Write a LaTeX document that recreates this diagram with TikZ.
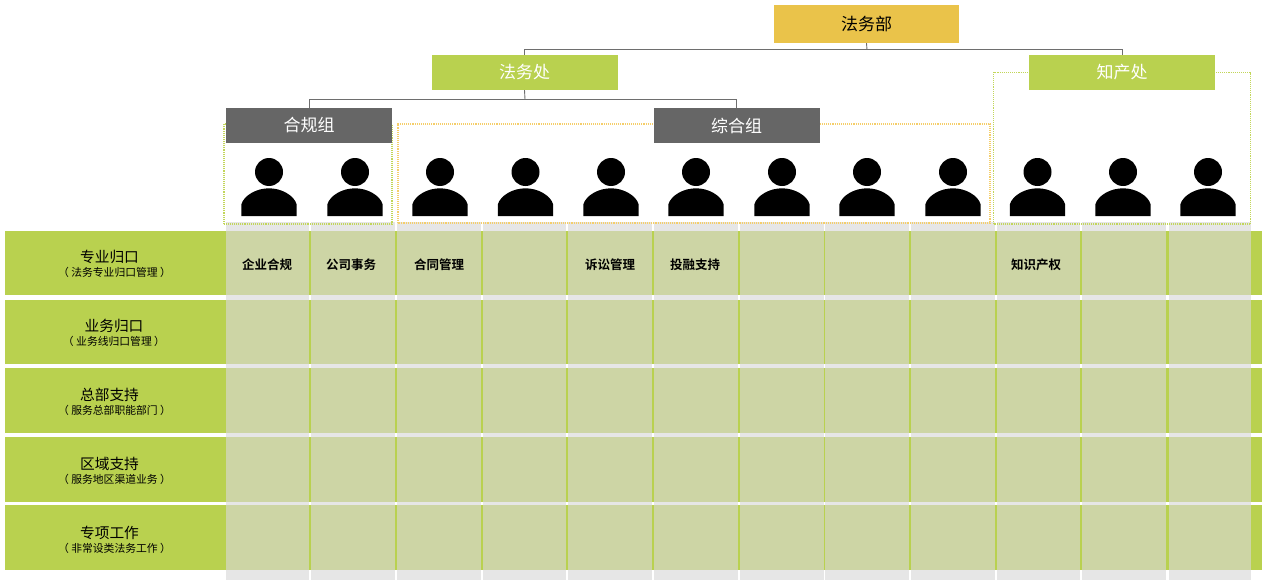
\documentclass[tikz,border=0pt]{standalone}
\usepackage{fontspec}
\setmainfont{Noto Sans CJK SC}
\newfontfamily\cjkbold{Noto Sans CJK SC Bold}
\definecolor{lime}{HTML}{B9D14F}
\definecolor{gold}{HTML}{EAC34A}
\definecolor{slate}{HTML}{666666}
\definecolor{linegray}{HTML}{6E6E6E}
\definecolor{dotorange}{HTML}{F5CE6A}
\definecolor{dotgreen}{HTML}{C2D65A}
\definecolor{colgray}{HTML}{E6E6E6}
\definecolor{cellgreen}{HTML}{CDD5A5}
\tikzset{
  x=1pt,y=-1pt,
  box/.style={minimum width=#1,minimum height=35,inner sep=0,text=white,font=\fontsize{17}{18}\selectfont},
  rowband/.style={fill=lime,draw=none},
  colband/.style={fill=colgray,draw=none},
  cellband/.style={fill=cellgreen,draw=none},
  conn/.style={draw=linegray,line width=.9},
  framedot/.style={densely dotted,line width=1.1},
  rowlabel/.style={align=center,inner sep=0,text=black,font=\fontsize{10.8}{13.4}\selectfont},
  celllabel/.style={inner sep=0,text=black,font=\cjkbold\fontsize{12.5}{14}\selectfont},
}
\newcommand{\rowtext}[3]{{\fontsize{14.7}{15}\selectfont #1\hspace*{#3}}\\#2}
\newcommand{\person}[1]{%
  \fill[black] (#1,172) circle[radius=14];
  \fill[black] (#1-27.7,216) -- (#1-27.7,204.5) .. controls (#1-25,195) and (#1-12,188.3) .. (#1,188.3)
     .. controls (#1+12,188.3) and (#1+25,195) .. (#1+27.7,204.5) -- (#1+27.7,216) -- cycle;}
\begin{document}
\begin{tikzpicture}
\useasboundingbox (0,0) rectangle (1269,586);
% rows
\foreach \a/\b in {230.5/295,300/364,368/433,437/501.5,505/570}
  \fill[rowband] (5,\a) rectangle (1262,\b);
% columns
\foreach \c/\d in {226/309,311/394.5,397/480.5,483/566,568/652,654/737.5,739.5/823.5,825/909,911/994.5,997/1080,1082/1165.5,1169/1251}{
  \fill[colband] (\c,222) rectangle (\d,580);
  \foreach \a/\b in {230.5/295,300/364,368/433,437/501.5,505/570}
    \fill[cellband] (\c,\a) rectangle (\d,\b);
}
% dotted frames
\draw[framedot,draw=dotgreen] (224,224) rectangle (392,124);
\draw[framedot,draw=dotorange] (398,223) rectangle (990,124);
\draw[framedot,draw=dotgreen] (993.5,224) rectangle (1250.5,72.5);
% boxes
\node[box=185,minimum height=38,fill=gold,text=black] (law) at (866.5,24) {法务部};
\node[box=186,fill=lime] (office) at (524.5,72.5) {法务处};
\node[box=186,fill=lime] (ip) at (1122,72.5) {知产处};
\node[box=166,fill=slate] (comp) at (309,125.5) {合规组};
\node[box=166,fill=slate] (gen) at (736.5,125.5) {综合组};
% connectors
\coordinate (busa) at (867,49.5);
\coordinate (busb) at (525,99.3);
\draw[conn] (law.south) -- (busa);
\draw[conn] (office.north) |- (busa) -| (ip.north);
\draw[conn] (office.south) -- (busb);
\draw[conn] (comp.north) |- (busb) -| (gen.north);
% people
\foreach \p in {269,355,440,525.5,611,696,782,867,953,1037.5,1123,1208} {\person{\p}}
% row labels
\node[rowlabel] (r1) at (114.5,263.7) {\rowtext{专业归口}{（ 法务专业归口管理 ）}{10pt}};
\node[rowlabel] (r2) at (114,332.7) {\rowtext{业务归口}{（ 业务线归口管理 ）}{0pt}};
\node[rowlabel] (r3) at (114.5,401.7) {\rowtext{总部支持}{（ 服务总部职能部门 ）}{10pt}};
\node[rowlabel] (r4) at (114.5,470.7) {\rowtext{区域支持}{（ 服务地区渠道业务 ）}{10pt}};
\node[rowlabel] (r5) at (114.5,540) {\rowtext{专项工作}{（ 非常设类法务工作 ）}{10pt}};
% cell labels
\node[celllabel] (c1) at (267,265) {企业合规};
\node[celllabel] (c2) at (351,265) {公司事务};
\node[celllabel] (c3) at (439,265) {合同管理};
\node[celllabel] (c4) at (610,265) {诉讼管理};
\node[celllabel] (c5) at (695,265) {投融支持};
\node[celllabel] (c6) at (1036,265) {知识产权};
\end{tikzpicture}
\end{document}
